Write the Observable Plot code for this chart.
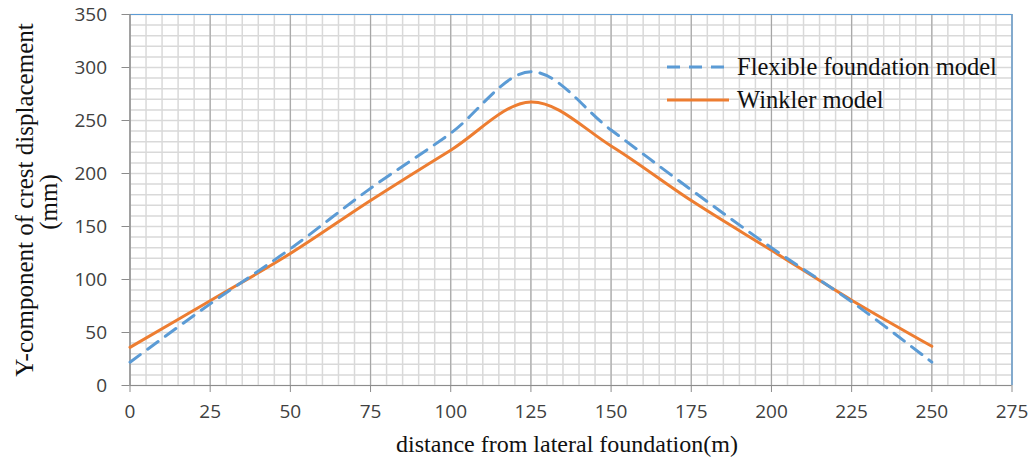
<!DOCTYPE html>
<html><head><meta charset="utf-8">
<script src="https://cdn.jsdelivr.net/npm/d3@7"></script>
<script src="https://cdn.jsdelivr.net/npm/@observablehq/plot@0.6"></script>
<style>body{margin:0;background:#fff}</style>
</head><body><div id="chart"></div>
<script>
// Data
const distance = [0, 25, 50, 75, 100, 125, 150, 175, 200, 225, 250];
const flexible = [22, 77, 129, 186, 238, 296, 241, 184.5, 130, 79, 22];
const winkler  = [36, 80, 124.5, 174.5, 222, 267.5, 226, 174.5, 127.5, 80.5, 37];
const seriesNames = ["Flexible foundation model", "Winkler model"];
const xTicks = d3.range(0, 276, 25);
const yTicks = d3.range(0, 351, 50);
const xMinor = d3.range(0, 276, 5);
const yMinor = d3.range(0, 351, 10);
const xLabel = "distance from lateral foundation(m)";
const yLabel1 = "Y-component of crest displacement";
const yLabel2 = "(mm)";

const blue = "#5b9bd5", orange = "#ed7d31";
const flexRows = distance.map((d, i) => ({x: d, y: flexible[i]}));
const winkRows = distance.map((d, i) => ({x: d, y: winkler[i]}));

const plot = Plot.plot({
  width: 1033, height: 463,
  marginLeft: 129.5, marginRight: 21.5, marginTop: 14, marginBottom: 78,
  x: {domain: [0, 275]},
  y: {domain: [0, 350]},
  style: {fontFamily: "'Open Sans', sans-serif", background: "#fff", overflow: "visible"},
  marks: [
    Plot.gridX(xMinor, {stroke: "#d9d9d9", strokeOpacity: 1, strokeWidth: 1.5}),
    Plot.gridY(yMinor, {stroke: "#d9d9d9", strokeOpacity: 1, strokeWidth: 1.5}),
    Plot.gridX(xTicks, {stroke: "#a6a6a6", strokeOpacity: 1, strokeWidth: 1.1}),
    Plot.ruleY([350], {stroke: blue, strokeWidth: 1.2}),
    Plot.ruleX([275], {stroke: blue, strokeWidth: 1.2}),
    Plot.ruleY([0], {stroke: "#8c8c8c", strokeWidth: 1.2}),
    Plot.ruleX([0], {stroke: "#8c8c8c", strokeWidth: 1.2}),
    Plot.axisX(xTicks, {tickSize: 7, tickPadding: 12, fontSize: 19, fill: "#404040", stroke: "#8c8c8c", label: null}),
    Plot.axisY(yTicks, {tickSize: 8, tickPadding: 15, fontSize: 19, fill: "#404040", stroke: "#8c8c8c", label: null}),
    Plot.line(winkRows, {x: "x", y: "y", stroke: orange, strokeWidth: 3, curve: "cardinal"}),
    Plot.line(flexRows, {x: "x", y: "y", stroke: blue, strokeWidth: 3, curve: "cardinal", strokeDasharray: "13 9"})
  ]
});
document.getElementById("chart").appendChild(plot);

const svg = d3.select(plot);
const serif = "'Liberation Serif', 'Times New Roman', serif";
// Legend
const leg = svg.append("g").attr("text-anchor", "start");
[[blue, "13 9", 67, 75, seriesNames[0]], [orange, null, 100, 108, seriesNames[1]]].forEach(([c, dash, ly, ty, name]) => {
  const l = leg.append("line").attr("x1", 667).attr("x2", 729).attr("y1", ly).attr("y2", ly)
    .attr("stroke", c).attr("stroke-width", 3);
  if (dash) l.attr("stroke-dasharray", dash);
  leg.append("text").attr("x", 737).attr("y", ty).attr("text-anchor", "start").attr("font-family", serif)
    .attr("font-size", 24.5).attr("fill", "#111").text(name);
});
// Axis titles
svg.append("text").attr("x", 567).attr("y", 452).attr("text-anchor", "middle")
  .attr("font-family", serif).attr("font-size", 24).attr("fill", "#111").text(xLabel);
svg.append("text").attr("transform", "translate(33,200) rotate(-90)").attr("text-anchor", "middle")
  .attr("font-family", serif).attr("font-size", 25).attr("fill", "#111").text(yLabel1);
svg.append("text").attr("transform", "translate(57,202) rotate(-90)").attr("text-anchor", "middle")
  .attr("font-family", serif).attr("font-size", 25).attr("fill", "#111").text(yLabel2);
</script>
</body></html>
